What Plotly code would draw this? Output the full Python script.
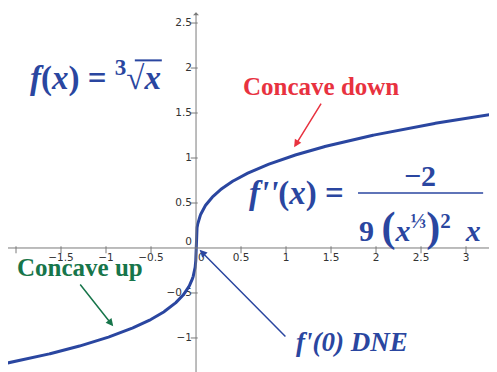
import numpy as np
import plotly.graph_objects as go

# graph of f(x) = cube root of x
x_curve = np.linspace(-2.2, 3.5, 800)
y_curve = np.cbrt(x_curve)

x_ticks = [-2, -1.5, -1, -0.5, 0.5, 1, 1.5, 2, 2.5, 3]
x_tick_labels = ['', '−1.5', '−1', '−0.5', '0.5', '1', '1.5', '2', '2.5', '3']
y_ticks = [-1, -0.5, 0.5, 1, 1.5, 2, 2.5]
y_tick_labels = ['−1', '−0.5', '0.5', '1', '1.5', '2', '2.5']

BLUE = '#2a46a0'
RED = '#e8323f'
GREEN = '#17754a'
AXIS = '#7a7a7a'
serif = 'Liberation Serif'

fig = go.Figure()

# tick marks
fig.add_trace(go.Scatter(x=x_ticks, y=[-0.02] * len(x_ticks), mode='markers',
                         marker=dict(symbol='line-ns-open', size=5, color=AXIS,
                                     line=dict(color=AXIS, width=1)),
                         hoverinfo='skip'))
fig.add_trace(go.Scatter(x=[-0.02] * len(y_ticks), y=y_ticks, mode='markers',
                         marker=dict(symbol='line-ew-open', size=5, color=AXIS,
                                     line=dict(color=AXIS, width=1)),
                         hoverinfo='skip'))

# tick labels
tick_font = dict(family='DejaVu Sans', size=10.5, color='#333')
fig.add_trace(go.Scatter(x=x_ticks, y=[-0.11] * len(x_ticks), mode='text',
                         text=x_tick_labels, textposition='middle center',
                         textfont=tick_font, hoverinfo='skip'))
fig.add_trace(go.Scatter(x=[-0.045] * len(y_ticks), y=y_ticks, mode='text',
                         text=y_tick_labels, textposition='middle left',
                         textfont=tick_font, hoverinfo='skip'))
fig.add_trace(go.Scatter(x=[-0.045, 0.06], y=[0.06, -0.11], mode='text',
                         text=['0', '0'], textposition=['middle left', 'middle center'],
                         textfont=tick_font, hoverinfo='skip'))

# curve
fig.add_trace(go.Scatter(x=x_curve, y=y_curve, mode='lines',
                         line=dict(color=BLUE, width=3), hoverinfo='skip'))

annotations = [
    # axes with arrows
    dict(x=3.31, y=0, ax=-2.2, ay=0, axref='x', ayref='y', xref='x', yref='y',
         showarrow=True, arrowhead=1, arrowsize=1, arrowwidth=1, arrowcolor=AXIS, text=''),
    dict(x=0, y=2.62, ax=0, ay=-1.5, axref='x', ayref='y', xref='x', yref='y',
         showarrow=True, arrowhead=1, arrowsize=1, arrowwidth=1, arrowcolor=AXIS, text=''),
    # pointer arrows
    dict(x=1.09, y=1.12, ax=1.40, ay=1.62, axref='x', ayref='y', xref='x', yref='y',
         showarrow=True, arrowhead=2, arrowsize=1, arrowwidth=1.5, arrowcolor=RED, text=''),
    dict(x=-0.92, y=-0.87, ax=-1.30, ay=-0.39, axref='x', ayref='y', xref='x', yref='y',
         showarrow=True, arrowhead=2, arrowsize=1, arrowwidth=1.5, arrowcolor=GREEN, text=''),
    dict(x=0.04, y=-0.02, ax=1.01, ay=-1.0, axref='x', ayref='y', xref='x', yref='y',
         showarrow=True, arrowhead=2, arrowsize=1, arrowwidth=1.5, arrowcolor=BLUE, text=''),
    # labels
    dict(x=-1.12, y=1.92, xref='x', yref='y', showarrow=False,
         text='<b><i>f</i>(<i>x</i>) = <sup>3</sup>√<i>x</i></b>',
         font=dict(family=serif, size=33, color=BLUE)),
    dict(x=1.39, y=1.79, xref='x', yref='y', showarrow=False,
         text='<b>Concave down</b>', font=dict(family=serif, size=25, color=RED)),
    dict(x=-1.29, y=-0.22, xref='x', yref='y', showarrow=False,
         text='<b>Concave up</b>', font=dict(family=serif, size=25, color=GREEN)),
    dict(x=1.73, y=-1.04, xref='x', yref='y', showarrow=False,
         text="<b><i>f'(0) DNE</i></b>", font=dict(family=serif, size=27, color=BLUE)),
    dict(x=1.12, y=0.61, xref='x', yref='y', showarrow=False,
         text="<b><i>f''</i>(<i>x</i>) =</b>", font=dict(family=serif, size=33, color=BLUE)),
    dict(x=2.49, y=0.81, xref='x', yref='y', showarrow=False,
         text='<b>−2</b>', font=dict(family=serif, size=30, color=BLUE)),
    dict(x=2.49, y=0.23, xref='x', yref='y', showarrow=False,
         text='<b>9 <span style="font-size:42px">(</span><i>x</i><sup>⅓</sup>'
              '<span style="font-size:42px">)</span><sup>2</sup>  <i>x</i></b>',
         font=dict(family=serif, size=30, color=BLUE)),
]

# fraction bar and radical overline
fig.add_shape(type='line', x0=1.8, x1=3.19, y0=0.61, y1=0.61,
              xref='x', yref='y', line=dict(color=BLUE, width=1.5))
fig.add_shape(type='line', x0=-0.68, x1=-0.38, y0=2.085, y1=2.085,
              xref='x', yref='y', line=dict(color=BLUE, width=2))

# page body keeps an 8px margin, so the ranges are shifted to land like the reference
fig.update_layout(
    width=497, height=372,
    margin=dict(l=0, r=0, t=0, b=0),
    paper_bgcolor='white', plot_bgcolor='white',
    showlegend=False,
    annotations=annotations,
    xaxis=dict(range=[-2.089, 3.433], visible=False, fixedrange=True),
    yaxis=dict(range=[-1.467, 2.667], visible=False, fixedrange=True),
)

fig.write_html("out.html")
